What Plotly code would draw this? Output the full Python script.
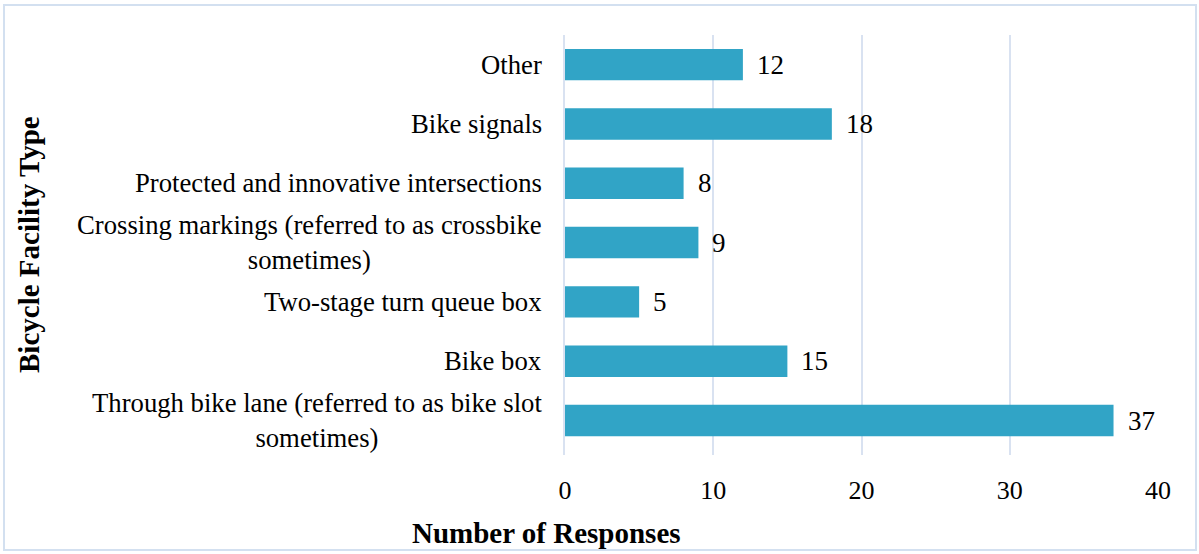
import plotly.graph_objects as go

# survey responses by facility type (bottom to top)
categories = [
    "Through bike lane (referred to as bike slot<br>sometimes)",
    "Bike box",
    "Two-stage turn queue box",
    "Crossing markings (referred to as crossbike<br>sometimes)",
    "Protected and innovative intersections",
    "Bike signals",
    "Other",
]
responses = [37, 15, 5, 9, 8, 18, 12]
x_ticks = [0, 10, 20, 30, 40]

FONT = "Liberation Serif, Times New Roman, serif"
W, H = 1199, 554
ML, MR, MT, MB = 565, 41, 35, 99
PW, PH = W - ML - MR, H - MT - MB

fig = go.Figure()
fig.add_trace(go.Bar(
    x=responses, y=categories, orientation="h",
    width=0.53,
    marker=dict(color="#31a4c6", line=dict(width=0)),
    hoverinfo="x+y",
))

# category labels as annotations so wrapped lines are centred
for cat in categories:
    fig.add_annotation(x=0, xref="paper", y=cat, yref="y", text=cat,
                       showarrow=False, xanchor="right", xshift=-21,
                       align="center", font=dict(family=FONT, size=26.7, color="#000"))

# value labels next to each bar
for cat, v in zip(categories, responses):
    fig.add_annotation(x=v, y=cat, text=str(v), showarrow=False,
                       xanchor="left", xshift=12,
                       font=dict(family=FONT, size=27, color="#000"))

# outer chart border
fig.add_shape(type="rect", xref="paper", yref="paper",
              x0=(4 - ML) / PW, x1=(W - 3 - ML) / PW,
              y0=-(H - 4 - (MT + PH)) / PH, y1=(MT + PH - 5) / PH,
              line=dict(color="#d3e0f0", width=2))

# axis titles (x title is centred on the whole chart, not the plot area)
fig.add_annotation(
    text="<b>Bicycle Facility Type</b>", xref="paper", yref="paper",
    x=(29 - ML) / PW, y=0.5, textangle=-90, showarrow=False,
    xanchor="center", yanchor="middle", font=dict(family=FONT, size=29))
fig.add_annotation(
    text="<b>Number of Responses</b>", xref="paper", yref="paper",
    x=(546 - ML) / PW, y=-(533 - MT - PH) / PH, showarrow=False,
    xanchor="center", yanchor="middle", font=dict(family=FONT, size=29))

fig.update_layout(
    width=W, height=H,
    margin=dict(l=ML, r=MR, t=MT, b=MB),
    plot_bgcolor="white", paper_bgcolor="white",
    showlegend=False,
    font=dict(family=FONT, color="#000"),
    xaxis=dict(
        range=[0, 40], tickvals=x_ticks, showgrid=True,
        gridcolor="#d9e2f1", gridwidth=1.5, zeroline=False,
        showline=False, tickfont=dict(size=26), ticklabelstandoff=17,
    ),
    yaxis=dict(
        categoryorder="array", categoryarray=categories,
        showticklabels=False, showline=True, linecolor="#d9e2f1", linewidth=1.5,
        showgrid=False,
    ),
)

fig.write_html("out.html", config={"displayModeBar": False},
               post_script="document.body.style.margin='0';")
